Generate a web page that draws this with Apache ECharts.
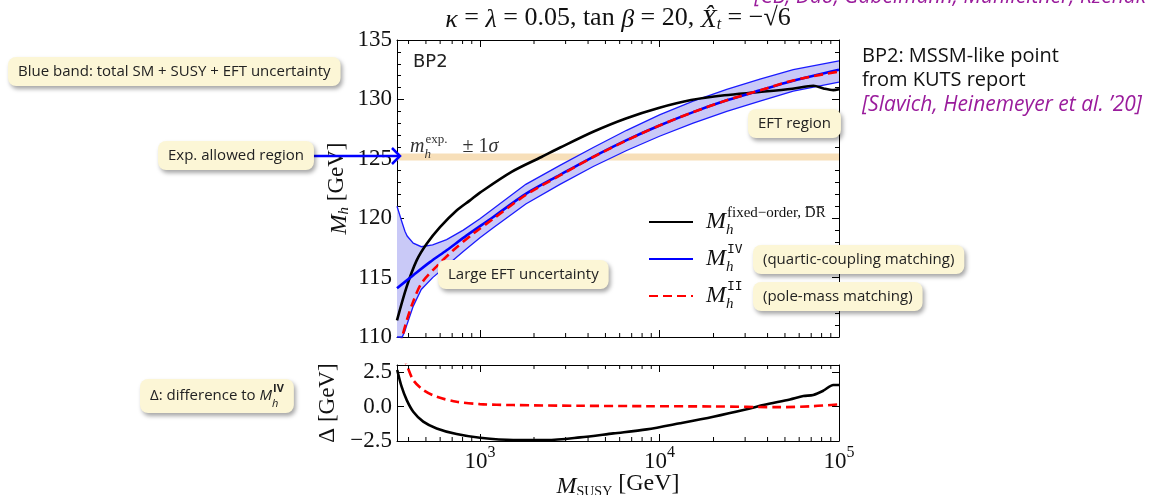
<!DOCTYPE html>
<html>
<head>
<meta charset="utf-8">
<script src="https://cdn.jsdelivr.net/npm/echarts@6.0.0/dist/echarts.min.js"></script>
<style>
html, body { margin: 0; padding: 0; background: #fff; }
#main { width: 1154px; height: 495px; }
</style>
</head>
<body>
<div id="main"></div>
<script>
// fixed-order DR-bar result (black)
const massFixed = [345, 390, 444, 505, 599, 741, 880, 1000, 1500, 2200, 2800, 4300, 6500, 10000, 15000, 23000, 36000, 55000, 72000, 82000, 93000, 100000]
const mhFixed = [111.4, 114.2, 116.45, 117.85, 119.25, 120.65, 121.5, 122.15, 123.9, 125.15, 125.95, 127.3, 128.4, 129.3, 129.95, 130.35, 130.62, 130.9, 131.15, 130.92, 130.78, 130.85]
// quartic-coupling matching (blue)
const massIV = [345, 425, 526, 652, 844, 1186, 1800, 2790, 4276, 6560, 10000, 15400, 23700, 36300, 55600, 100000]
const mhIV = [114.1, 115.2, 116.3, 117.3, 118.55, 120.1, 122.05, 123.65, 125.17, 126.57, 127.8, 128.93, 129.92, 130.76, 131.57, 132.5]
// pole-mass matching (red dashed)
const massII = [345, 369, 393, 425, 471, 574, 710, 918, 1186, 1800, 2790, 4276, 6560, 10000, 15400, 23700, 36300, 55600, 100000]
const mhII = [108.0, 110.0, 111.5, 113.0, 114.5, 115.95, 117.3, 118.7, 119.95, 121.95, 123.6, 125.15, 126.55, 127.8, 128.93, 129.92, 130.76, 131.6, 132.35]
// uncertainty band
const massBand = [345, 369, 382, 393, 425, 471, 545, 652, 807, 1000, 1186, 1800, 2790, 4276, 6560, 10000, 15400, 23700, 36300, 55600, 100000]
const bandLow = [108.2, 109.7, 110.5, 111.1, 112.6, 114.0, 115.0, 116.0, 117.2, 118.35, 119.2, 121.2, 122.85, 124.35, 125.7, 126.9, 128.0, 129.0, 129.85, 130.7, 131.45]
const bandHigh = [121.0, 119.6, 118.9, 118.5, 117.9, 117.6, 117.75, 118.2, 119.0, 119.95, 120.8, 122.85, 124.45, 125.95, 127.4, 128.7, 129.85, 130.85, 131.7, 132.5, 133.25]
// experimental m_h +- 1 sigma
const expBand = [124.85, 125.45]
// lower panel: difference to M_h^IV
const massDeltaFixed = [346, 366, 391, 425, 483, 574, 741, 1000, 1534, 2355, 3608, 5530, 8490, 13000, 19950, 30600, 37900, 53300, 63300, 71900, 81800, 93000, 100000]
const deltaFixed = [2.64, 1.43, 0.46, -0.38, -1.1, -1.59, -2.0, -2.27, -2.43, -2.43, -2.24, -1.95, -1.66, -1.22, -0.75, -0.21, 0.1, 0.51, 0.75, 0.83, 1.14, 1.55, 1.55]
const massDeltaII = [345, 370, 391, 425, 483, 574, 741, 1000, 1534, 3608, 8490, 19950, 46900, 71900, 100000]
const deltaII = [4.6, 3.7, 3.0, 1.91, 1.19, 0.7, 0.34, 0.17, 0.1, 0.05, 0.02, 0.0, -0.05, 0.02, 0.15]
// log minor ticks
const minorTicks = [400, 500, 600, 700, 800, 900, 2000, 3000, 4000, 5000, 6000, 7000, 8000, 9000,
  20000, 30000, 40000, 50000, 60000, 70000, 80000, 90000]

const serif = 'Liberation Serif'
const sans = 'Open Sans'
const purple = '#9a1c9c'

const pairs = (xs, ys) => xs.map((x, i) => [x, ys[i]])

function minorTickItem (params, api) {
  const cs = params.coordSys
  const x = api.coord([api.value(0), api.value(1)])[0]
  const bottom = cs.y + cs.height
  return {
    type: 'group',
    children: [
      { type: 'line', shape: { x1: x, y1: bottom, x2: x, y2: bottom - 4 }, style: { stroke: '#000', lineWidth: 1 } },
      { type: 'line', shape: { x1: x, y1: cs.y, x2: x, y2: cs.y + 4 }, style: { stroke: '#000', lineWidth: 1 } }
    ]
  }
}

// whole uncertainty band as one polygon, drawn on the first item only
function bandItem (params, api) {
  if (params.dataIndex !== 0) return null
  const cs = params.coordSys
  const bottom = cs.y + cs.height
  const clampY = p => [p[0], Math.min(p[1], bottom)]
  const upper = massBand.map((m, i) => clampY(api.coord([m, bandHigh[i]])))
  const lower = massBand.map((m, i) => clampY(api.coord([m, bandLow[i]])))
  return {
    type: 'group',
    children: [
      { type: 'polygon', shape: { points: upper.concat(lower.slice().reverse()) }, style: { fill: '#c9c9f7' } },
      { type: 'polyline', shape: { points: upper }, style: { stroke: '#1a1aff', lineWidth: 1.3, fill: null } },
      { type: 'polyline', shape: { points: lower }, style: { stroke: '#1a1aff', lineWidth: 1.3, fill: null } }
    ]
  }
}

const logAxis = (grid, pos, labels) => ({
  type: 'log',
  gridIndex: grid,
  position: pos,
  min: 345,
  max: 100000,
  logBase: 10,
  nameMoveOverlap: false,
  axisLine: { show: true, onZero: false, lineStyle: { color: '#000', width: 1 } },
  axisTick: { show: true, inside: true, length: 7, lineStyle: { color: '#000' } },
  minorTick: { show: false },
  splitLine: { show: false },
  axisLabel: {
    show: labels,
    showMinLabel: false,
    showMaxLabel: true,
    margin: 4,
    formatter: v => '{b|10}{s|' + Math.round(Math.log10(v)) + '}',
    rich: {
      b: { fontFamily: serif, fontSize: 23, color: '#111', lineHeight: 28, verticalAlign: 'bottom' },
      s: { fontFamily: serif, fontSize: 16, color: '#111', verticalAlign: 'top', lineHeight: 28 }
    }
  }
})

const valAxis = (grid, pos, min, max, interval, labels, minor) => ({
  type: 'value',
  gridIndex: grid,
  position: pos,
  min: min,
  max: max,
  interval: interval,
  nameMoveOverlap: false,
  axisLine: { show: true, onZero: false, lineStyle: { color: '#000', width: 1 } },
  axisTick: { show: true, inside: true, length: 7, lineStyle: { color: '#000' } },
  minorTick: { show: minor, splitNumber: 5, length: 4, lineStyle: { color: '#000' } },
  splitLine: { show: false },
  minorSplitLine: { show: false },
  axisLabel: {
    show: labels,
    showMaxLabel: interval === 5,
    fontFamily: serif,
    fontSize: 23,
    color: '#111',
    margin: 5,
    formatter: v => interval === 5 ? String(v) : v.toFixed(1).replace('-', '\u2212')
  }
})

const nameRich = {
  i: { fontFamily: serif, fontStyle: 'italic', fontSize: 24, color: '#111', verticalAlign: 'bottom', lineHeight: 30 },
  sub: { fontFamily: serif, fontStyle: 'italic', fontSize: 15, color: '#111', verticalAlign: 'bottom', lineHeight: 26 },
  sc: { fontFamily: serif, fontSize: 14, color: '#111', verticalAlign: 'bottom', lineHeight: 26 }
}

const xTop0 = logAxis(0, 'bottom', false)
const xTop1 = logAxis(0, 'top', false)
const xBot0 = logAxis(1, 'bottom', true)
xBot0.name = '{i|M}{sc|SUSY} [GeV]'
xBot0.nameLocation = 'middle'
xBot0.nameGap = 28
xBot0.nameTextStyle = { fontFamily: serif, fontSize: 24, color: '#111', rich: nameRich }
const xBot1 = logAxis(1, 'top', false)

const yTop0 = valAxis(0, 'left', 110, 135, 5, true, true)
yTop0.name = '{i|M}{sub|h} [GeV]'
yTop0.nameLocation = 'middle'
yTop0.nameGap = 45
yTop0.nameTextStyle = { fontFamily: serif, fontSize: 23, color: '#111', rich: nameRich }
const yTop1 = valAxis(0, 'right', 110, 135, 5, false, true)
const yBot0 = valAxis(1, 'left', -2.5, 3.0, 2.5, true, false)
yBot0.name = '\u0394 [GeV]'
yBot0.nameLocation = 'middle'
yBot0.nameGap = 58
yBot0.nameTextStyle = { fontFamily: serif, fontSize: 23, color: '#111' }
const yBot1 = valAxis(1, 'right', -2.5, 3.0, 2.5, false, false)

const legendRich = {
  m: { fontFamily: serif, fontStyle: 'italic', fontSize: 24, color: '#111', lineHeight: 32, padding: [0, 0, 0, 8] },
  h: { fontFamily: serif, fontStyle: 'italic', fontSize: 15, color: '#111', verticalAlign: 'bottom', lineHeight: 30, width: 1 },
  sp: { fontFamily: serif, fontSize: 15, color: '#111', verticalAlign: 'top', lineHeight: 30 },
  tt: { fontFamily: 'DejaVu Sans Mono', fontSize: 13, color: '#111', verticalAlign: 'top', lineHeight: 30 }
}
const legendText = {
  fixed: '{m|M}{h|h}{sp|fixed\u2212order, D\u0305R\u0305}',
  iv: '{m|M}{h|h}{tt|IV}',
  ii: '{m|M}{h|h}{tt|II}'
}

const boxStyle = (text, x, y) => ({
  type: 'text',
  x: x,
  y: y,
  z: 100,
  style: {
    text: text,
    font: '15px "' + sans + '"',
    fill: '#222',
    backgroundColor: '#fcf6d6',
    borderRadius: 8,
    padding: [7, 10, 7, 10],
    shadowBlur: 4,
    shadowColor: 'rgba(0,0,0,0.35)',
    shadowOffsetX: 2,
    shadowOffsetY: 3
  }
})

const option = {
  animation: false,
  backgroundColor: '#fff',
  grid: [
    { left: 397, right: 315, top: 40, height: 297, outerBoundsMode: 'none' },
    { left: 397, right: 315, top: 365, height: 76, outerBoundsMode: 'none' }
  ],
  xAxis: [xTop0, xTop1, xBot0, xBot1],
  yAxis: [yTop0, yTop1, yBot0, yBot1],
  legend: {
    data: ['fixed', 'iv', 'ii'],
    orient: 'vertical',
    left: 648,
    top: 206,
    padding: 0,
    itemWidth: 44,
    itemHeight: 14,
    itemGap: 5,
    selectedMode: false,
    itemStyle: { opacity: 0 },
    formatter: name => legendText[name],
    textStyle: { rich: legendRich }
  },
  series: [
    {
      name: 'exp',
      type: 'line',
      xAxisIndex: 0,
      yAxisIndex: 0,
      data: [],
      z: 1,
      silent: true,
      markArea: {
        silent: true,
        itemStyle: { color: '#f7dfb9' },
        data: [[{ yAxis: expBand[0] }, { yAxis: expBand[1] }]]
      }
    },
    {
      name: 'band',
      type: 'custom',
      xAxisIndex: 0,
      yAxisIndex: 0,
      silent: true,
      renderItem: bandItem,
      data: massBand.map((m, i) => [m, bandLow[i], bandHigh[i]]),
      z: 2
    },
    {
      name: 'fixed',
      type: 'line',
      xAxisIndex: 0,
      yAxisIndex: 0,
      symbol: 'none',
      smooth: 0.3,
      data: pairs(massFixed, mhFixed),
      lineStyle: { color: '#000', width: 2.6 },
      itemStyle: { color: '#000' },
      z: 4
    },
    {
      name: 'iv',
      type: 'line',
      xAxisIndex: 0,
      yAxisIndex: 0,
      symbol: 'none',
      smooth: 0.3,
      data: pairs(massIV, mhIV),
      lineStyle: { color: '#0000ff', width: 2.6 },
      itemStyle: { color: '#0000ff' },
      z: 4
    },
    {
      name: 'ii',
      type: 'line',
      xAxisIndex: 0,
      yAxisIndex: 0,
      symbol: 'none',
      smooth: 0.3,
      data: pairs(massII, mhII),
      lineStyle: { color: '#ff0000', width: 2.6, type: [9, 5] },
      itemStyle: { color: '#ff0000' },
      z: 5
    },
    {
      name: 'dFixed',
      type: 'line',
      xAxisIndex: 2,
      yAxisIndex: 2,
      symbol: 'none',
      smooth: 0.3,
      data: pairs(massDeltaFixed, deltaFixed),
      lineStyle: { color: '#000', width: 2.6 },
      z: 4
    },
    {
      name: 'dII',
      type: 'line',
      xAxisIndex: 2,
      yAxisIndex: 2,
      symbol: 'none',
      smooth: 0.3,
      data: pairs(massDeltaII, deltaII),
      lineStyle: { color: '#ff0000', width: 2.6, type: [9, 5] },
      z: 5
    },
    {
      type: 'custom',
      xAxisIndex: 0,
      yAxisIndex: 0,
      silent: true,
      renderItem: minorTickItem,
      data: minorTicks.map(v => [v, 120]),
      z: 6
    },
    {
      type: 'custom',
      xAxisIndex: 2,
      yAxisIndex: 2,
      silent: true,
      renderItem: minorTickItem,
      data: minorTicks.map(v => [v, 0]),
      z: 6
    }
  ],
  graphic: [
    {
      type: 'text', x: 618, y: 18, z: 50,
      style: {
        text: '{i|\u03ba} = {i|\u03bb} = 0.05, tan {i|\u03b2} = 20, {i|X\u0302}{sub|t} = \u2212\u221a6',
        fill: '#111', align: 'center', verticalAlign: 'middle',
        font: '26px "' + serif + '"',
        rich: {
          i: { fontFamily: serif, fontStyle: 'italic', fontSize: 26, lineHeight: 30, verticalAlign: 'bottom' },
          sub: { fontFamily: serif, fontStyle: 'italic', fontSize: 16, lineHeight: 26, verticalAlign: 'bottom' }
        }
      }
    },
    {
      type: 'text', x: 413, y: 62, z: 50,
      style: { text: 'BP2', font: '18px "DejaVu Sans"', fill: '#222', verticalAlign: 'middle' }
    },
    {
      type: 'text', x: 410, y: 147, z: 50,
      style: {
        text: '{i|m}{h|h}{sp|exp.}   \u00b1 1{i|\u03c3}',
        fill: '#333', verticalAlign: 'middle',
        font: '20px "' + serif + '"',
        rich: {
          i: { fontFamily: serif, fontStyle: 'italic', fontSize: 20, lineHeight: 28, fill: '#333' },
          h: { fontFamily: serif, fontStyle: 'italic', fontSize: 13, lineHeight: 26, verticalAlign: 'bottom', width: 1, fill: '#333' },
          sp: { fontFamily: serif, fontSize: 13, lineHeight: 26, verticalAlign: 'top', fill: '#333' }
        }
      }
    },
    // experimental region arrow
    { type: 'line', z: 60, shape: { x1: 313, y1: 156, x2: 399, y2: 156 }, style: { stroke: '#0000ff', lineWidth: 2.5 } },
    { type: 'polyline', z: 60, shape: { points: [[392, 148], [400, 156], [392, 164]] }, style: { stroke: '#0000ff', lineWidth: 2.5, fill: null } },
    boxStyle('Blue band: total SM + SUSY + EFT uncertainty', 8, 57),
    boxStyle('Exp. allowed region', 158, 141),
    boxStyle('Large EFT uncertainty', 438, 260),
    boxStyle('EFT region', 748, 109),
    boxStyle('(quartic-coupling matching)', 753, 245),
    boxStyle('(pole-mass matching)', 753, 282),
    {
      type: 'text', x: 140, y: 379, z: 100,
      style: {
        text: '{t|\u0394: difference to }{m|M}{h|h}{s|IV}',
        fill: '#222',
        font: '15px "' + sans + '"',
        backgroundColor: '#fcf6d6',
        borderRadius: 8,
        padding: [4, 10, 4, 10],
        shadowBlur: 4,
        shadowColor: 'rgba(0,0,0,0.35)',
        shadowOffsetX: 2,
        shadowOffsetY: 3,
        rich: {
          t: { fontFamily: sans, fontSize: 15, lineHeight: 26, fill: '#222' },
          m: { fontFamily: sans, fontStyle: 'italic', fontSize: 15, lineHeight: 26, fill: '#222' },
          h: { fontFamily: sans, fontStyle: 'italic', fontSize: 11, lineHeight: 24, verticalAlign: 'bottom', width: 1, fill: '#222' },
          s: { fontFamily: sans, fontWeight: 'bold', fontSize: 11, lineHeight: 24, verticalAlign: 'top', fill: '#222' }
        }
      }
    },
    {
      type: 'text', x: 862, y: 44, z: 50,
      style: {
        text: 'BP2: MSSM-like point\nfrom KUTS report',
        font: '20px "' + sans + '"', fill: '#111', lineHeight: 24.5
      }
    },
    {
      type: 'text', x: 862, y: 93, z: 50,
      style: {
        text: '[Slavich, Heinemeyer et al. \u201920]',
        font: 'italic 21px "' + sans + '"', fill: purple, lineHeight: 24
      }
    },
    {
      type: 'text', x: 1146, y: -3, z: 50,
      style: {
        text: '[CB, Dao, Gabelmann, M\u00fchlleitner, Rzehak',
        font: 'italic 21px "' + sans + '"', fill: purple, align: 'right', verticalAlign: 'middle'
      }
    }
  ]
}

const myChart = echarts.init(document.getElementById('main'))
myChart.setOption(option)
</script>
</body>
</html>
